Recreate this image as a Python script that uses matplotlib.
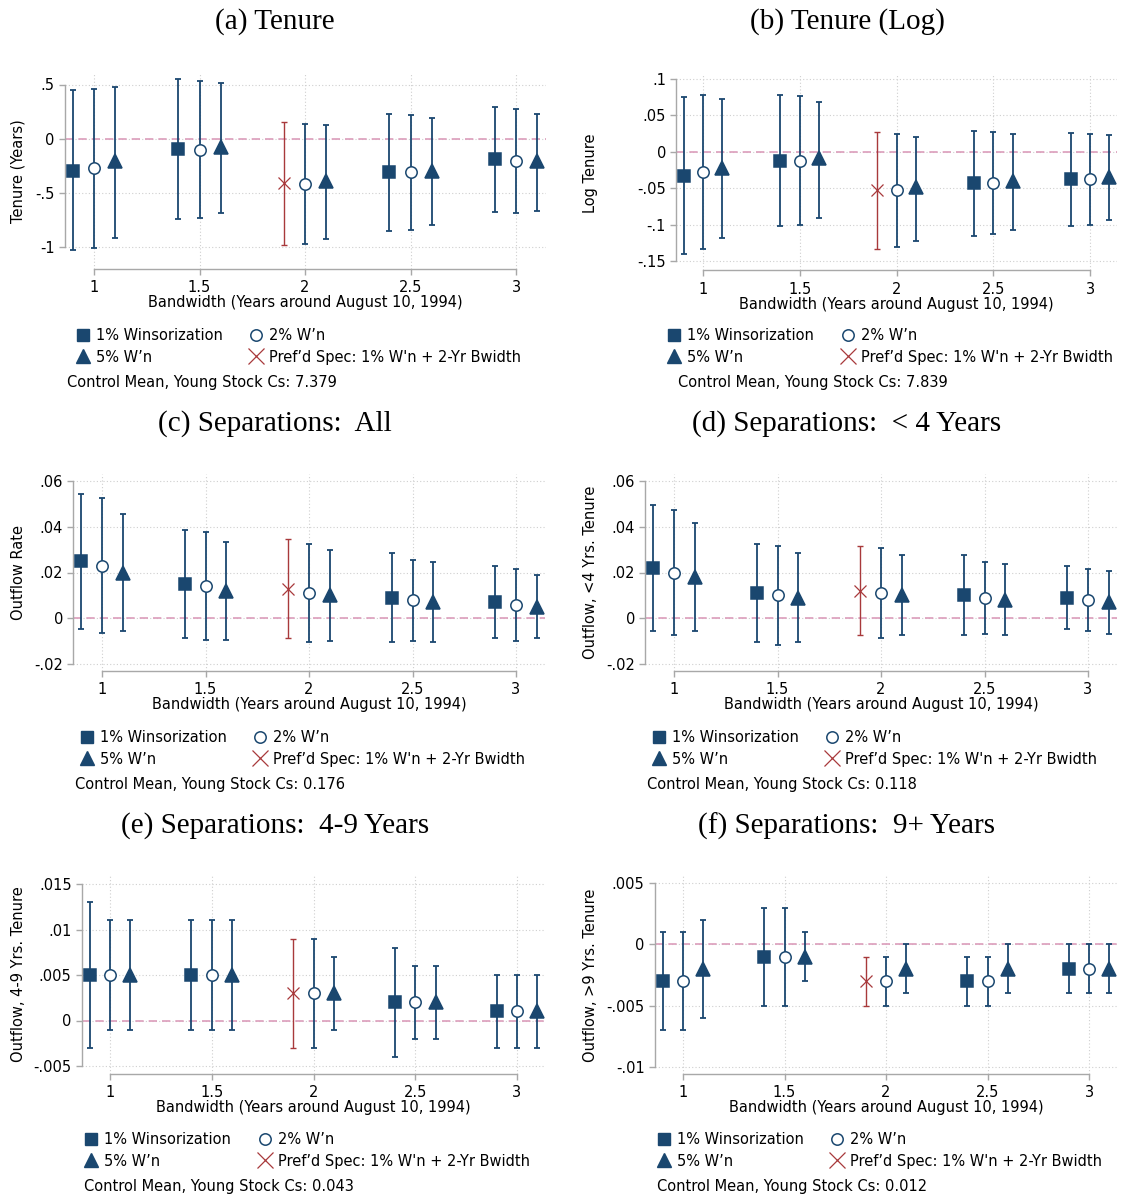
"""
Robustez das estimativas RD: seis painéis (tenure e separações) por bandwidth
e nível de winsorização, estilo Stata.
"""

import matplotlib

matplotlib.use("Agg")
import matplotlib.pyplot as plt
import numpy as np
from matplotlib.lines import Line2D

# ------------------------------------------------------------------ dados
bandwidth = [1, 1.5, 2, 2.5, 3]

# (a) Tenure (anos): linhas = 1%, 2%, 5% winsorização
tenure_est = [[-0.30, -0.095, -0.41, -0.305, -0.19],
              [-0.27, -0.10, -0.415, -0.31, -0.205],
              [-0.21, -0.08, -0.39, -0.295, -0.21]]
tenure_lo = [[-1.03, -0.74, -0.985, -0.85, -0.68],
             [-1.01, -0.73, -0.97, -0.84, -0.685],
             [-0.92, -0.685, -0.925, -0.80, -0.665]]
tenure_hi = [[0.45, 0.55, 0.15, 0.23, 0.29],
             [0.46, 0.53, 0.14, 0.22, 0.27],
             [0.48, 0.51, 0.13, 0.19, 0.23]]

# (b) Tenure (log)
logten_est = [[-0.033, -0.012, -0.053, -0.043, -0.037],
              [-0.028, -0.012, -0.053, -0.043, -0.038],
              [-0.022, -0.009, -0.049, -0.040, -0.035]]
logten_lo = [[-0.141, -0.102, -0.133, -0.115, -0.102],
             [-0.133, -0.100, -0.131, -0.113, -0.100],
             [-0.119, -0.091, -0.123, -0.107, -0.094]]
logten_hi = [[0.075, 0.078, 0.027, 0.029, 0.026],
             [0.078, 0.076, 0.025, 0.027, 0.025],
             [0.073, 0.069, 0.021, 0.025, 0.023]]

# (c) Separações: todas
sep_all_est = [[0.025, 0.015, 0.013, 0.009, 0.007],
               [0.023, 0.014, 0.011, 0.008, 0.006],
               [0.020, 0.012, 0.010, 0.007, 0.005]]
sep_all_lo = [[-0.0045, -0.0085, -0.0085, -0.0105, -0.0087],
              [-0.0065, -0.0095, -0.0105, -0.0098, -0.0098],
              [-0.0055, -0.0095, -0.0098, -0.0105, -0.0088]]
sep_all_hi = [[0.0545, 0.0385, 0.0345, 0.0287, 0.0227],
              [0.0525, 0.0375, 0.0325, 0.0256, 0.0217],
              [0.0455, 0.0335, 0.0297, 0.0248, 0.0188]]

# (d) Separações: < 4 anos
sep_lt4_est = [[0.022, 0.011, 0.012, 0.010, 0.009],
               [0.020, 0.010, 0.011, 0.009, 0.008],
               [0.018, 0.009, 0.010, 0.008, 0.007]]
sep_lt4_lo = [[-0.0055, -0.0105, -0.0075, -0.0075, -0.0047],
              [-0.0073, -0.0115, -0.0085, -0.0067, -0.0057],
              [-0.0055, -0.0105, -0.0075, -0.0075, -0.0067]]
sep_lt4_hi = [[0.0495, 0.0325, 0.0315, 0.0275, 0.0227],
              [0.0475, 0.0315, 0.0305, 0.0248, 0.0217],
              [0.0415, 0.0287, 0.0275, 0.0237, 0.0207]]

# (e) Separações: 4-9 anos
sep_4to9_est = [[0.005, 0.005, 0.003, 0.002, 0.001],
                [0.005, 0.005, 0.003, 0.002, 0.001],
                [0.005, 0.005, 0.003, 0.002, 0.001]]
sep_4to9_lo = [[-0.003, -0.001, -0.003, -0.004, -0.003],
               [-0.001, -0.001, -0.003, -0.002, -0.003],
               [-0.001, -0.001, -0.001, -0.002, -0.003]]
sep_4to9_hi = [[0.013, 0.011, 0.009, 0.008, 0.005],
               [0.011, 0.011, 0.009, 0.006, 0.005],
               [0.011, 0.011, 0.007, 0.006, 0.005]]

# (f) Separações: 9+ anos
sep_9p_est = [[-0.003, -0.001, -0.003, -0.003, -0.002],
              [-0.003, -0.001, -0.003, -0.003, -0.002],
              [-0.002, -0.001, -0.002, -0.002, -0.002]]
sep_9p_lo = [[-0.007, -0.005, -0.005, -0.005, -0.004],
             [-0.007, -0.005, -0.005, -0.005, -0.004],
             [-0.006, -0.003, -0.004, -0.004, -0.004]]
sep_9p_hi = [[0.001, 0.003, -0.001, -0.001, 0.0],
             [0.001, 0.003, -0.001, -0.001, 0.0],
             [0.002, 0.001, 0.0, 0.0, 0.0]]

titles = ["(a) Tenure", "(b) Tenure (Log)", "(c) Separations:  All",
          "(d) Separations:  < 4 Years", "(e) Separations:  4-9 Years",
          "(f) Separations:  9+ Years"]
ylabels = ["Tenure (Years)", "Log Tenure", "Outflow Rate",
           "Outflow, <4 Yrs. Tenure", "Outflow, 4-9 Yrs. Tenure",
           "Outflow, >9 Yrs. Tenure"]
control_means = ["7.379", "7.839", "0.176", "0.118", "0.043", "0.012"]

yticks_a, yticklabels_a = [-1, -0.5, 0, 0.5], ["-1", "-.5", "0", ".5"]
yticks_b = [-0.15, -0.1, -0.05, 0, 0.05, 0.1]
yticklabels_b = ["-.15", "-.1", "-.05", "0", ".05", ".1"]
yticks_cd = [-0.02, 0, 0.02, 0.04, 0.06]
yticklabels_cd = ["-.02", "0", ".02", ".04", ".06"]
yticks_e = [-0.005, 0, 0.005, 0.01, 0.015]
yticklabels_e = ["-.005", "0", ".005", ".01", ".015"]
yticks_f = [-0.01, -0.005, 0, 0.005]
yticklabels_f = ["-.01", "-.005", "0", ".005"]
xticklabels = ["1", "1.5", "2", "2.5", "3"]

legend_labels = ["1% Winsorization", "5% W\u2019n", "2% W\u2019n",
                 "Pref\u2019d Spec: 1% W'n + 2-Yr Bwidth"]

# ------------------------------------------------------------------ estilo
NAVY = "#1a476f"
RED = "#a8393b"
PINK = "#dc9dbb"
GRAY = "#a8a8a8"
FW, FH = 1121, 1199
XLIM = (0.862, 3.14)
OFFSETS = [-0.1, 0.0, 0.1]
SERIES = [dict(marker="s", ms=8.6, mfc=NAVY),
          dict(marker="o", ms=8.2, mfc="white"),
          dict(marker="^", ms=9.5, mfc=NAVY)]

plt.rcParams["font.family"] = "DejaVu Sans"
fig = plt.figure(figsize=(FW / 100, FH / 100), dpi=100)

# posição em pixels: (x de "1", x de "3", y-topo valor/pixel, y-base valor/pixel), ylim
panels = [
    (tenure_est, tenure_lo, tenure_hi, yticks_a, yticklabels_a,
     (94, 516, 0.5, 84.5, -1, 247), (-1.2, 0.6)),
    (logten_est, logten_lo, logten_hi, yticks_b, yticklabels_b,
     (703, 1090, 0.1, 79, -0.15, 261), (-0.163, 0.105)),
    (sep_all_est, sep_all_lo, sep_all_hi, yticks_cd, yticklabels_cd,
     (102, 516, 0.06, 481, -0.02, 664), (-0.023, 0.063)),
    (sep_lt4_est, sep_lt4_lo, sep_lt4_hi, yticks_cd, yticklabels_cd,
     (674, 1088, 0.06, 481, -0.02, 664), (-0.023, 0.063)),
    (sep_4to9_est, sep_4to9_lo, sep_4to9_hi, yticks_e, yticklabels_e,
     (110, 517, 0.015, 884, -0.005, 1066), (-0.0059, 0.016)),
    (sep_9p_est, sep_9p_lo, sep_9p_hi, yticks_f, yticklabels_f,
     (683, 1089, 0.005, 883, -0.01, 1067), (-0.0106, 0.0056)),
]

for i, (est, lo, hi, yt, ytl, px, ylim) in enumerate(panels):
    x1p, x3p, yhi, yhip, ylo, ylop = px
    sx = (x3p - x1p) / 2
    left = x1p - (1 - XLIM[0]) * sx
    width = (XLIM[1] - XLIM[0]) * sx
    sy = (ylop - yhip) / (yhi - ylo)
    top = yhip - (ylim[1] - yhi) * sy
    height = (ylim[1] - ylim[0]) * sy
    ax = fig.add_axes([left / FW, 1 - (top + height) / FH, width / FW, height / FH])

    ax.axhline(0, color=PINK, lw=1.2, ls=(0, (5, 3)), zorder=1)
    for k in range(3):
        xs = np.array(bandwidth) + OFFSETS[k]
        e, l, h = np.array(est[k]), np.array(lo[k]), np.array(hi[k])
        idx = [j for j in range(5) if not (k == 0 and bandwidth[j] == 2)]
        ax.errorbar(xs[idx], e[idx], yerr=[e[idx] - l[idx], h[idx] - e[idx]],
                    fmt="none", ecolor=NAVY, elinewidth=1.3, capsize=2.4,
                    capthick=1.3, zorder=2)
        ax.plot(xs[idx], e[idx], ls="none", mec=NAVY, mew=1.1, zorder=3,
                **SERIES[k])
        if k == 0:
            # especificação preferida: 1% W'n, bandwidth de 2 anos
            j = bandwidth.index(2)
            ax.errorbar(xs[j], e[j], yerr=[[e[j] - l[j]], [h[j] - e[j]]],
                        fmt="none", ecolor=RED, elinewidth=1.0, capsize=2.4,
                        capthick=1.0, zorder=2)
            ax.plot(xs[j], e[j], ls="none", marker="x", ms=9, mew=0.9,
                    color=RED, zorder=3)

    ax.set_xlim(XLIM)
    ax.set_ylim(ylim)
    ax.set_xticks(bandwidth)
    ax.set_xticklabels(xticklabels)
    ax.set_yticks(yt)
    ax.set_yticklabels(ytl)
    ax.grid(True, ls=(0, (1, 2)), color="#cfcfcf", lw=0.8)
    ax.set_axisbelow(True)
    for s in ["top", "right"]:
        ax.spines[s].set_visible(False)
    ax.spines["left"].set_bounds(min(yt), max(yt))
    ax.spines["bottom"].set_bounds(1, 3)
    for s in ["left", "bottom"]:
        ax.spines[s].set_color(GRAY)
        ax.spines[s].set_linewidth(1.0)
    ax.tick_params(colors=GRAY, labelcolor="black", length=4, width=1.0,
                   labelsize=10.5)
    ax.tick_params(axis="x", pad=4)
    ax.set_xlabel("Bandwidth (Years around August 10, 1994)", fontsize=10.5,
                  labelpad=0)
    ax.set_ylabel(ylabels[i], fontsize=10.5)
    # rótulo do eixo y em x fixo por coluna, como no Stata
    ylab_px = 26 if i % 2 == 0 else 598
    ax.yaxis.set_label_coords((ylab_px - left) / width, 0.5)

    row = i // 2
    cx = (x1p + x3p) / 2
    fig.text(((275 if i % 2 == 0 else 847)) / FW, 1 - (22 + 402 * row) / FH,
             titles[i], ha="center", va="center", fontsize=21,
             family="Liberation Serif")

    handles = [
        Line2D([], [], ls="none", marker="s", ms=8.6, color=NAVY),
        Line2D([], [], ls="none", marker="^", ms=9.5, color=NAVY),
        Line2D([], [], ls="none", marker="o", ms=8.2, mfc="white", mec=NAVY, mew=1.1),
        Line2D([], [], ls="none", marker="x", ms=11, mew=0.9, color=RED),
    ]
    fig.legend(handles, legend_labels, ncol=2, loc="upper center",
               bbox_to_anchor=((cx - 6) / FW, 1 - (328 + 402 * row) / FH),
               frameon=False, fontsize=10.5, handlelength=0.8,
               handletextpad=0.5, columnspacing=1.9, labelspacing=0.45,
               borderpad=0, borderaxespad=0)
    fig.text((left + 2) / FW, 1 - (383 + 402 * row) / FH,
             f"Control Mean, Young Stock Cs: {control_means[i]}",
             ha="left", va="center", fontsize=10.5)

fig.savefig("out.png", dpi=100)
